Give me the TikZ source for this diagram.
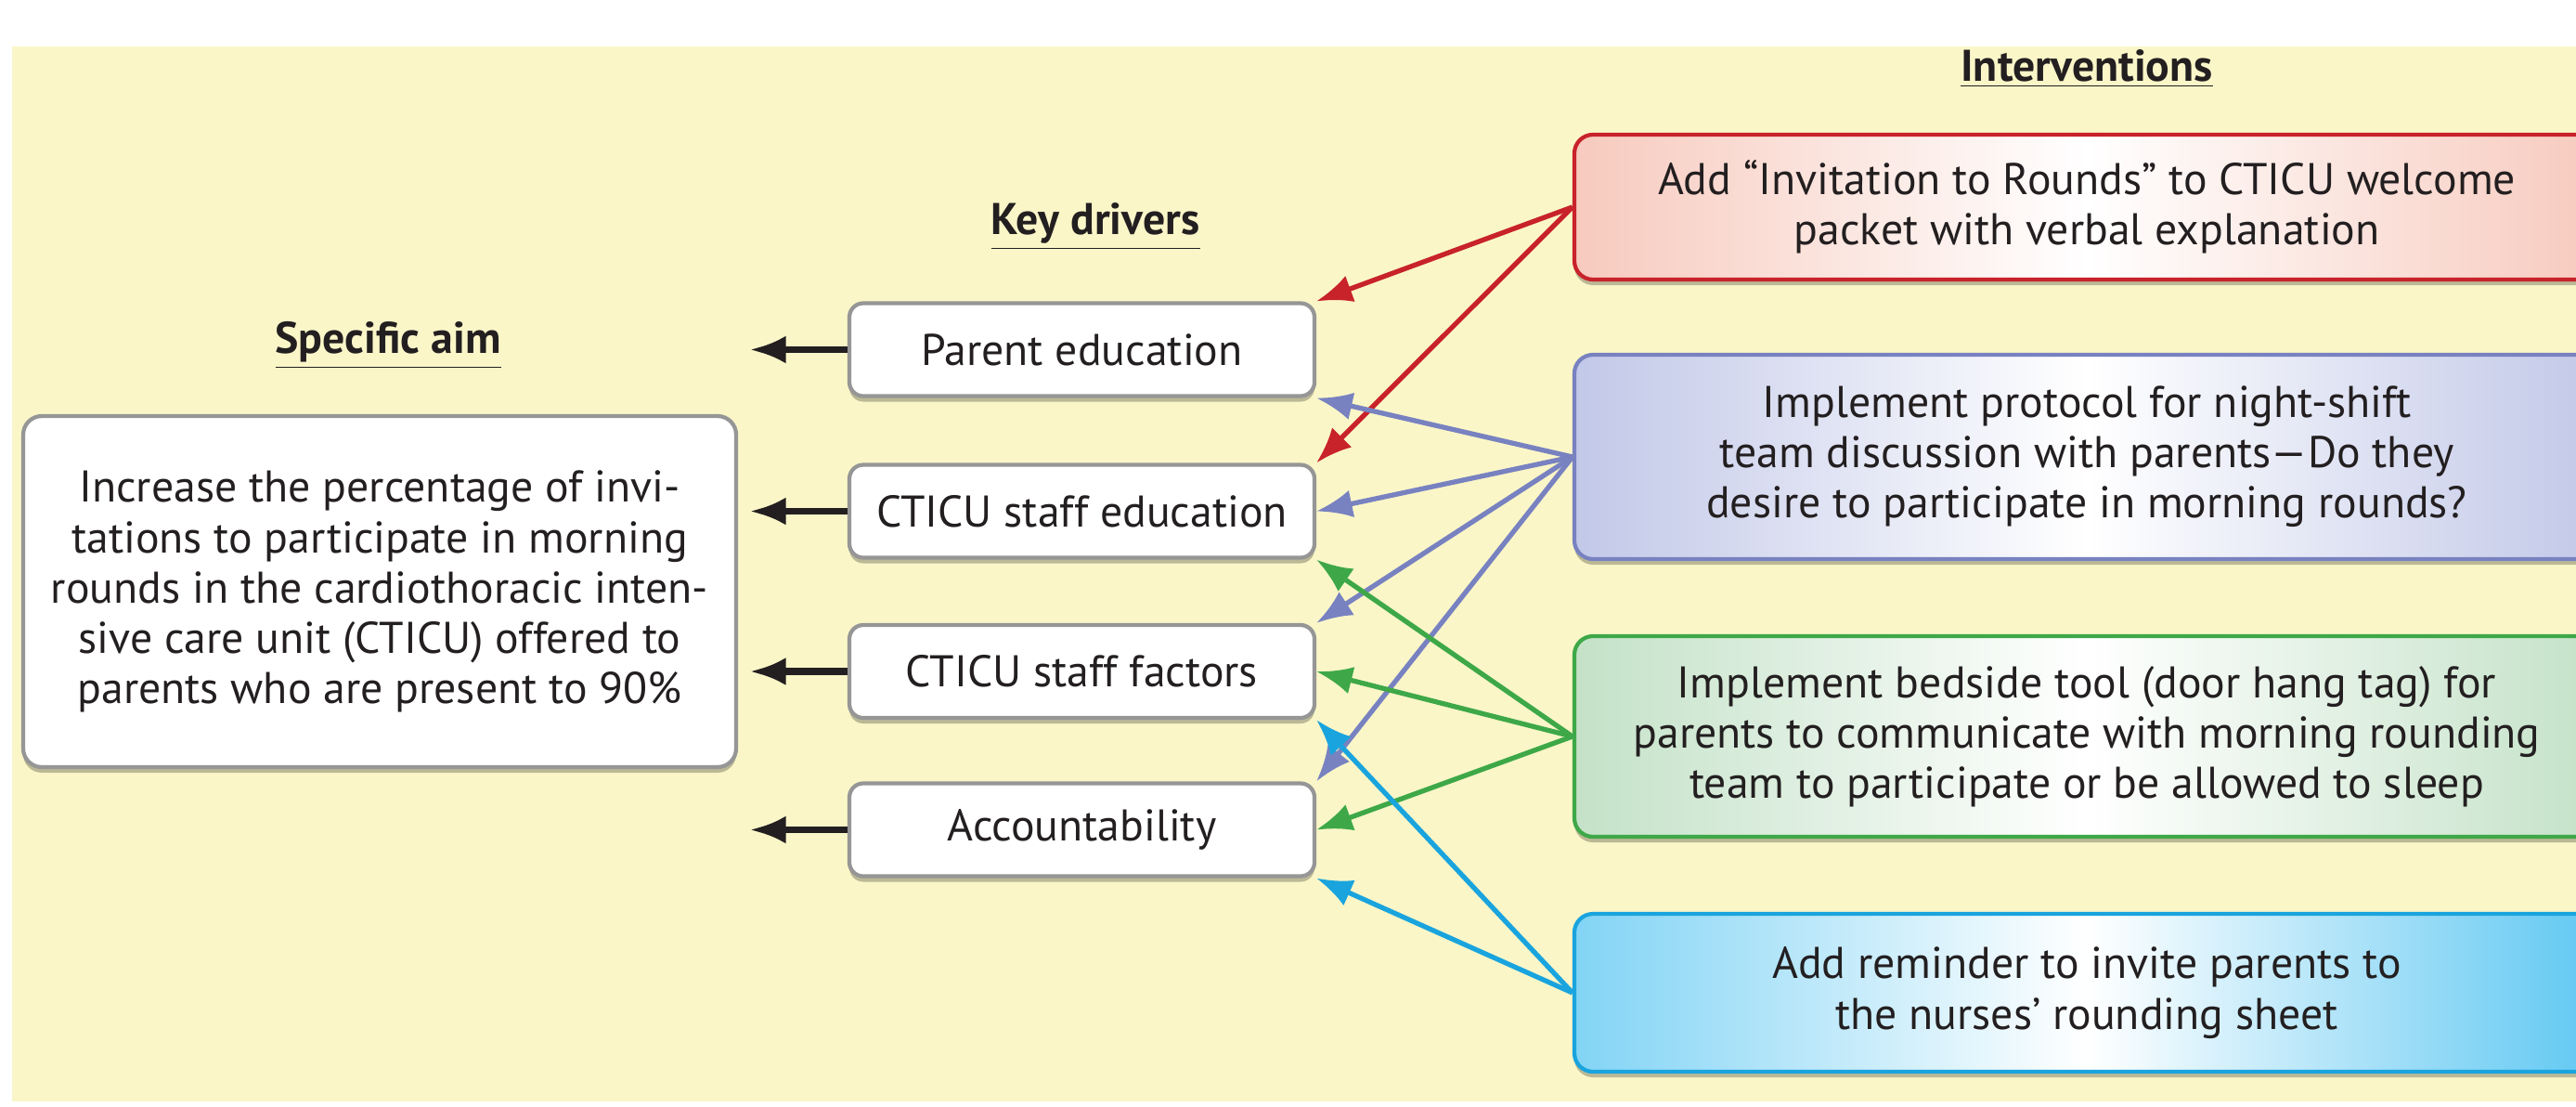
\documentclass[tikz,border=0pt]{standalone}
\usepackage{fontspec}
\setmainfont{PT Sans}
\usetikzlibrary{arrows.meta,shadows}

\definecolor{bgyellow}{RGB}{250,246,200}
\definecolor{txtgray}{RGB}{35,31,32}
\definecolor{boxgray}{RGB}{150,150,150}
\definecolor{redline}{RGB}{200,34,42}
\definecolor{redfill}{RGB}{247,202,190}
\definecolor{blueline}{RGB}{120,130,192}
\definecolor{bluefill}{RGB}{194,200,232}
\definecolor{greenline}{RGB}{62,168,72}
\definecolor{greenfill}{RGB}{196,226,200}
\definecolor{cyanline}{RGB}{26,164,222}
\definecolor{cyanfillL}{RGB}{130,212,245}
\definecolor{cyanfillR}{RGB}{96,200,242}

\tikzstyle{every node}=[text=txtgray, font=\fontsize{13.6}{15.4}\selectfont]
\tikzstyle{head}=[font=\fontsize{13.6}{15.4}\selectfont\bfseries]
\tikzstyle{soft shadow}=[drop shadow={shadow xshift=0pt, shadow yshift=-0.6mm, fill=black, opacity=.25}]
\tikzstyle{driver}=[draw=boxgray, line width=1.2pt, fill=white, rounded corners=0.15cm, minimum width=5.01cm, minimum height=1cm, soft shadow]
\tikzstyle{interv}=[line width=1.2pt, rounded corners=0.2cm, minimum width=11.04cm, align=center, soft shadow]
\tikzstyle{redbox}=[interv, draw=redline, left color=redfill, right color=redfill, middle color=white]
\tikzstyle{bluebox}=[interv, draw=blueline, left color=bluefill, right color=bluefill, middle color=white]
\tikzstyle{greenbox}=[interv, draw=greenline, left color=greenfill, right color=greenfill, middle color=white]
\tikzstyle{cyanbox}=[interv, draw=cyanline, left color=cyanfillL, right color=cyanfillR, middle color=white]
\tikzstyle{link}=[->, line width=1.5pt]

\begin{document}
\begin{tikzpicture}[>={Latex[length=11pt,width=8.5pt]}]
    \clip (0, 0) rectangle (27.75, 11.91);
    \fill[bgyellow] (0.13, 0.05) rectangle (27.75, 11.41);

    \node[head] (AH) at (4.18, 8.19) {\underline{Specific aim}};
    \node[head] (KH) at (11.80, 9.47) {\underline{Key drivers}};
    \node[head] (IH) at (22.48, 11.17) {\underline{Interventions}};

    \node[draw=boxgray, line width=1.2pt, fill=white, rounded corners=0.2cm, minimum width=7.68cm, minimum height=3.78cm, align=center, soft shadow] (aim) at (4.09, 5.54)
        {Increase the percentage of invi-\\tations to participate in morning\\rounds in the cardiothoracic inten-\\sive care unit (CTICU) offered to\\parents who are present to 90\%};

    \node[driver] (PE) at (11.655, 8.145) {Parent education};
    \node[driver] (SE) at (11.655, 6.405) {CTICU staff education};
    \node[driver] (SF) at (11.655, 4.68) {CTICU staff factors};
    \node[driver] (AC) at (11.655, 2.975) {Accountability};

    \node[redbox, minimum height=1.56cm] (I1) at (22.48, 9.68)
        {Add “Invitation to Rounds” to CTICU welcome\\packet with verbal explanation};
    \node[bluebox, minimum height=2.2cm] (I2) at (22.48, 6.99)
        {Implement protocol for night-shift\\team discussion with parents—Do they\\desire to participate in morning rounds?};
    \node[greenbox, minimum height=2.16cm] (I3) at (22.48, 3.98)
        {Implement bedside tool (door hang tag) for\\parents to communicate with morning rounding\\team to participate or be allowed to sleep};
    \node[cyanbox, minimum height=1.7cm] (I4) at (22.48, 1.22)
        {Add reminder to invite parents to\\the nurses’ rounding sheet};

    \foreach \d in {PE, SE, SF, AC}
        \draw[->, line width=2pt, txtgray] (\d.west) -- ++(-1.05, 0);

    \draw[link, redline] (I1.west) -- (PE.north east);
    \draw[link, redline] (I1.west) -- (SE.north east);

    \draw[link, blueline] (I2.west) -- (PE.south east);
    \draw[link, blueline] (I2.west) -- (SE.east);
    \draw[link, blueline] (I2.west) -- (SF.north east);
    \draw[link, blueline] (I2.west) -- (AC.north east);

    \draw[link, greenline] (I3.west) -- (SE.south east);
    \draw[link, greenline] (I3.west) -- (SF.east);
    \draw[link, greenline] (I3.west) -- (AC.east);

    \draw[link, cyanline] (I4.west) -- (SF.south east);
    \draw[link, cyanline] (I4.west) -- (AC.south east);
\end{tikzpicture}
\end{document}
